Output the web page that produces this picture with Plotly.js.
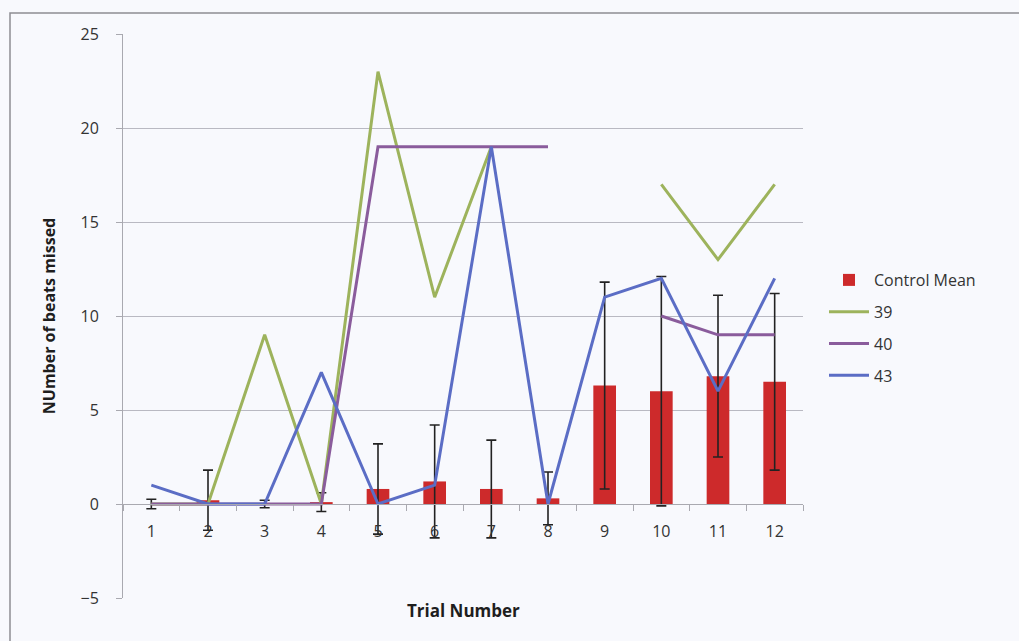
<!DOCTYPE html>
<html>
<head>
<meta charset="utf-8">
<script src="https://cdn.plot.ly/plotly-3.0.1.min.js"></script>
<style>
  html, body { margin: 0; padding: 0; background: #f8f9fd; }
  #chart { width: 1019px; height: 641px; }
</style>
</head>
<body>
<div id="chart"></div>
<script>
const trials = ['1','2','3','4','5','6','7','8','9','10','11','12'];
const controlMean = [0, 0.2, 0, 0.1, 0.8, 1.2, 0.8, 0.3, 6.3, 6.0, 6.8, 6.5];
const controlErr  = [0.25, 1.6, 0.2, 0.5, 2.4, 3.0, 2.6, 1.4, 5.5, 6.1, 4.3, 4.7];
const s39 = [0, 0, 9, 0, 23, 11, 19, null, null, 17, 13, 17];
const s40 = [0, 0, 0, 0, 19, 19, 19, 19, null, 10, 9, 9];
const s43 = [1, 0, 0, 7, 0, 1, 19, 0, 11, 12, 6, 12];

const FONT = '"Open Sans", "DejaVu Sans", sans-serif';
const TXT = '#333333';

const lineTrace = (y, name, color, grp) => ({
  type: 'scatter', mode: 'lines', x: trials, y: y, name: name,
  line: { color: color, width: 3 }, connectgaps: false,
  legendgroup: grp, hoverinfo: 'x+y+name'
});

const data = [
  {
    type: 'bar', x: trials, y: controlMean, name: 'Control Mean',
    marker: { color: '#cd2a2b' }, legendgroup: 'a',
    error_y: { type: 'data', array: controlErr, visible: true,
               color: '#222222', thickness: 1.6, width: 5 }
  },
  lineTrace(s39, '39', '#9db35c', 'b'),
  lineTrace(s40, '40', '#8a5c9c', 'c'),
  lineTrace(s43, '43', '#5b6dc5', 'd')
];

// plot area: left 123, right 803, top 34, bottom 598
const L = 123, R = 803, T = 34, B = 598;
const px = v => (v - L) / (R - L);
const py = v => (B - v) / (B - T);

const layout = {
  width: 1019, height: 641,
  margin: { l: L, r: 1019 - R, t: T, b: 641 - B, pad: 0 },
  paper_bgcolor: '#f8f9fd',
  plot_bgcolor: '#f8f9fd',
  font: { family: FONT, size: 16, color: TXT },
  bargap: 0.6,
  showlegend: true,
  legend: {
    x: px(824), y: py(263), xanchor: 'left', yanchor: 'top',
    bgcolor: 'rgba(0,0,0,0)', font: { family: FONT, size: 16, color: TXT },
    traceorder: 'grouped', tracegroupgap: 8, itemwidth: 40
  },
  xaxis: {
    type: 'category', anchor: 'free', position: 5 / 30,
    showline: true, linecolor: '#a9a9b0', linewidth: 1,
    ticks: 'outside', tickson: 'boundaries', ticklen: 6, tickcolor: '#a9a9b0',
    ticklabelstandoff: 13,
    showgrid: false, zeroline: false,
    tickfont: { family: FONT, size: 16, color: TXT }
  },
  yaxis: {
    range: [-5, 25], dtick: 5, tick0: 0,
    showline: true, linecolor: '#a9a9b0', linewidth: 1,
    ticks: 'outside', ticklen: 6, tickcolor: '#a9a9b0',
    ticklabelstandoff: 14,
    showgrid: true, gridcolor: '#b9b9c2', gridwidth: 1,
    zeroline: false,
    tickfont: { family: FONT, size: 16, color: TXT },
    title: { text: 'NUmber of beats missed', standoff: 20,
             font: { family: FONT, size: 16, color: '#1e1e1e', weight: 'bold' } }
  },
  annotations: [
    { text: '<b>Trial Number</b>', xref: 'paper', yref: 'paper',
      x: 0.5, y: py(611), xanchor: 'center', yanchor: 'middle', showarrow: false,
      font: { family: FONT, size: 17, color: '#1e1e1e' } }
  ],
  shapes: [
    { type: 'rect', xref: 'paper', yref: 'paper', layer: 'below',
      x0: px(10), x1: px(1040), y0: py(660), y1: py(13),
      line: { color: '#8d8d93', width: 1.5 }, fillcolor: 'rgba(0,0,0,0)' }
  ]
};

Plotly.newPlot('chart', data, layout, { displayModeBar: false, staticPlot: true });
</script>
</body>
</html>
